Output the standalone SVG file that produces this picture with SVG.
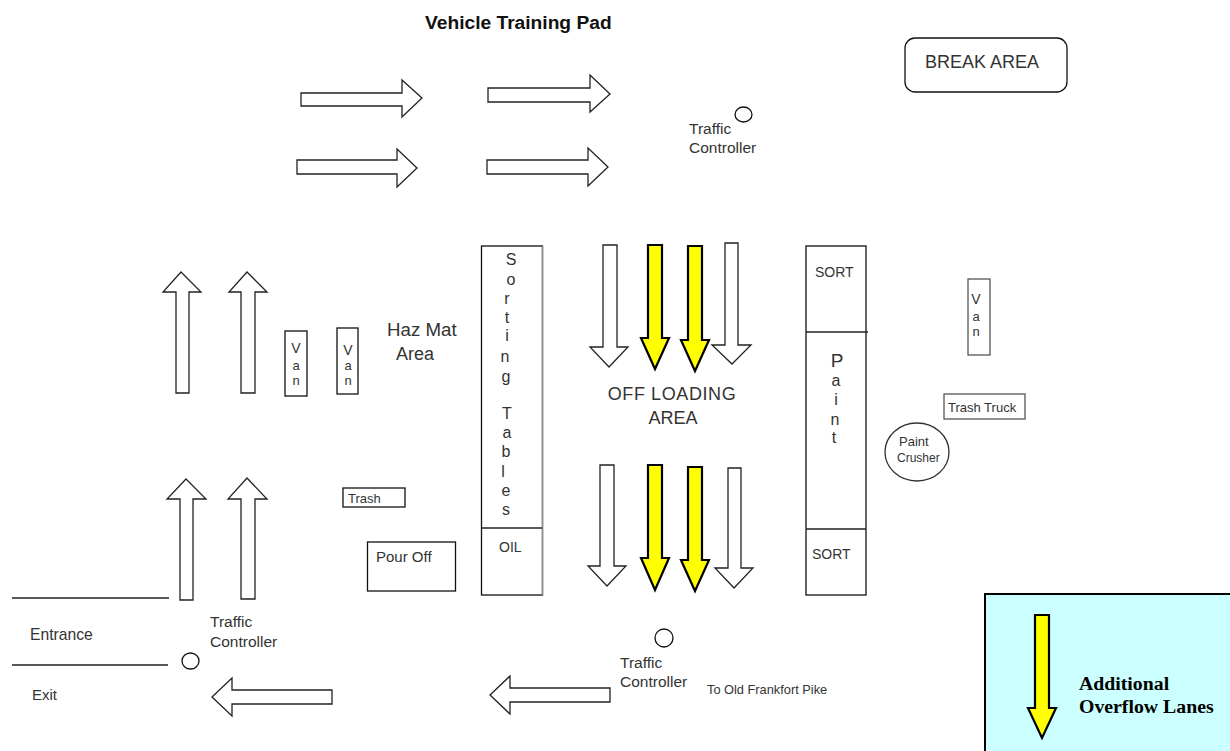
<svg xmlns="http://www.w3.org/2000/svg" width="1230" height="751" viewBox="0 0 1230 751">
<style>
text{font-family:"Liberation Sans",Arial,sans-serif;fill:#333}
.box{fill:#fff;stroke:#111;stroke-width:1.3}
.line{fill:none;stroke:#222;stroke-width:1.3}
.arrow{fill:#fff;stroke:#222;stroke-width:1.3;stroke-linejoin:miter}
.overflow{fill:#ff0;stroke:#000;stroke-width:2.2;stroke-linejoin:miter}
.tc{font-size:15.500px}
.s14{font-size:14px}.s15{font-size:15px}.s16{font-size:16px}.s13{font-size:13px}.s12{font-size:12px}.s18{font-size:18px}
.m{text-anchor:middle}
.note{font-family:"Liberation Serif",serif;font-size:19.800px;font-weight:bold;fill:#000}
</style>
<rect width="1230" height="751" fill="#fff"/>
<g id="title"><text x="425" y="29" font-size="19.200" font-weight="bold" style="fill:#111">Vehicle Training Pad</text></g>
<g id="break-area"><rect class="box" x="905" y="38" width="162" height="54" rx="10"/><text x="925" y="68" class="s18">BREAK AREA</text></g>
<g id="traffic-controller-top"><ellipse class="box" cx="743.500" cy="114.500" rx="8.500" ry="7.500"/><text x="689" y="134" class="tc">Traffic</text><text x="689" y="153" class="tc">Controller</text></g>
<g id="traffic-controller-left"><ellipse class="box" cx="190.500" cy="661" rx="8.500" ry="8"/><text x="210" y="627" class="tc">Traffic</text><text x="210" y="647" class="tc">Controller</text></g>
<g id="traffic-controller-bottom"><ellipse class="box" cx="664" cy="638" rx="9" ry="9"/><text x="620" y="668" class="tc">Traffic</text><text x="620" y="687" class="tc">Controller</text></g>
<g id="van-1"><rect class="box" x="285" y="331" width="22" height="65"/><text x="296" y="353" class="s14 m">V</text><text x="296" y="370" class="s13 m">a</text><text x="296" y="385" class="s13 m">n</text></g>
<g id="van-2"><rect class="box" x="337" y="328" width="21" height="66"/><text x="348" y="355" class="s14 m">V</text><text x="348" y="370" class="s13 m">a</text><text x="348" y="385" class="s13 m">n</text></g>
<g id="van-3"><rect class="box" x="968" y="279" width="22" height="76" style="stroke:#555"/><text x="976" y="304" class="s14 m">V</text><text x="976" y="321" class="s13 m">a</text><text x="976" y="336" class="s13 m">n</text></g>
<g id="haz-mat"><text x="387" y="336" font-size="18.700">Haz Mat</text><text x="396" y="360" class="s18">Area</text></g>
<g id="sorting-tables"><rect class="box" x="481.500" y="246" width="61" height="349"/><path d="M542.500 246V595" fill="none" stroke="#888" stroke-width="1.300"/><path class="line" d="M482 528H542"/>
<text x="511" y="265" class="s16 m">S</text><text x="511" y="285" class="s16 m">o</text><text x="507" y="304" class="s16 m">r</text><text x="507" y="323" class="s16 m">t</text><text x="507" y="341" class="s16 m">i</text><text x="505" y="362" class="s16 m">n</text><text x="506" y="382" class="s16 m">g</text><text x="507" y="419" class="s16 m">T</text><text x="507" y="438" class="s16 m">a</text><text x="506" y="457" class="s16 m">b</text><text x="503" y="477" class="s16 m">l</text><text x="506" y="496" class="s16 m">e</text><text x="506" y="515" class="s16 m">s</text>
<text x="499" y="552" class="s14">OIL</text></g>
<g id="off-loading"><text x="672" y="400" class="s18 m" letter-spacing="0.600">OFF LOADING</text><text x="673" y="424" class="s18 m">AREA</text></g>
<g id="sort-paint"><rect class="box" x="806" y="246" width="60" height="349"/><path class="line" d="M806 332H868M806 529H866"/>
<text x="815" y="277" class="s14">SORT</text><text x="812" y="559" class="s14">SORT</text>
<text x="837" y="367" font-size="19" class="m">P</text><text x="836" y="386" class="s16 m">a</text><text x="836" y="405" class="s16 m">i</text><text x="835" y="425" class="s16 m">n</text><text x="834" y="443" class="s16 m">t</text></g>
<g id="trash-truck"><rect class="box" x="944" y="394" width="81" height="25" style="stroke:#555"/><text x="948" y="412" class="s13">Trash Truck</text></g>
<g id="paint-crusher"><ellipse class="box" cx="917" cy="452" rx="32" ry="29" style="stroke:#333"/><text x="899" y="446" class="s13">Paint</text><text x="897" y="462" class="s12">Crusher</text></g>
<g id="trash"><rect class="box" x="343" y="488" width="62" height="19"/><text x="348" y="503" class="s13">Trash</text></g>
<g id="pour-off"><rect class="box" x="367.500" y="542" width="88" height="49"/><text x="376" y="562" class="s15">Pour Off</text></g>
<g id="entrance"><text x="30" y="640" font-size="15.700">Entrance</text></g>
<g id="exit"><text x="32" y="700" class="s15">Exit</text></g>
<g id="to-old-frankfort"><text x="707" y="694" font-size="12.800">To Old Frankfort Pike</text></g>
<g id="legend"><rect x="985" y="594" width="246" height="158" fill="#ccffff" stroke="#000" stroke-width="2"/>
<polygon class="overflow" points="1035,615 1049,615 1049,708 1056,708 1042,738 1028,708 1035,708"/>
<text x="1079" y="690" class="note">Additional</text>
<text x="1079" y="713" class="note">Overflow Lanes</text></g>
<g id="connectors">
<path class="line" d="M12 598H169M12 665H168"/>
<polygon class="arrow" points="301,93 402,93 402,80 422,98 402,117 402,106 301,106"/>
<polygon class="arrow" points="488,88 590,88 590,75 610,94 590,112 590,102 488,102"/>
<polygon class="arrow" points="297,160 397,160 397,149 417,168 397,187 397,174 297,174"/>
<polygon class="arrow" points="487,160 588,160 588,148 608,167 588,186 588,174 487,174"/>
<polygon class="arrow" points="176,393 176,292 163,292 181,272 201,292 189,292 189,393"/>
<polygon class="arrow" points="241,393 241,292 229,292 247,272 267,292 255,292 255,393"/>
<polygon class="arrow" points="180,600 180,499 167,499 186,479 206,499 193,499 193,600"/>
<polygon class="arrow" points="241,599 241,499 228,499 247,478 267,499 255,499 255,599"/>
<polygon class="arrow" points="603,245 617,245 617,347 628,347 609,367 590,347 603,347"/>
<polygon class="arrow" points="725,243 738,243 738,345 751,345 732,364 712,345 725,345"/>
<polygon class="arrow" points="600,465 614,465 614,566 626,566 607,586 588,566 600,566"/>
<polygon class="arrow" points="728,468 741,468 741,568 753,568 734,588 715,568 728,568"/>
<polygon class="arrow" points="332,690 232,690 232,678 212,697 232,716 232,704 332,704"/>
<polygon class="arrow" points="610,688 510,688 510,676 490,695 510,714 510,702 610,702"/>
<polygon class="overflow" points="648,245 662,245 662,338 669,338 655,369 641,338 648,338"/>
<polygon class="overflow" points="688,246 702,246 702,340 709,340 695,371 681,340 688,340"/>
<polygon class="overflow" points="648,465 662,465 662,558 669,558 655,590 641,558 648,558"/>
<polygon class="overflow" points="688,467 702,467 702,560 709,560 695,591 681,560 688,560"/>
</g>
</svg>
